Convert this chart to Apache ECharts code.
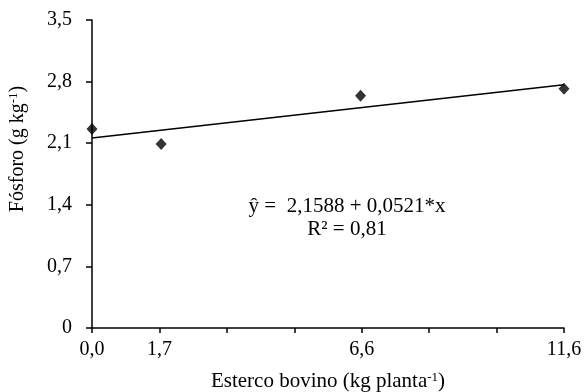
<!DOCTYPE html>
<html>
<head>
<meta charset="utf-8">
<script src="https://cdn.jsdelivr.net/npm/echarts@6/dist/echarts.min.js"></script>
<style>
  html, body { margin: 0; padding: 0; background: #fff; }
  #chart { width: 585px; height: 392px; }
</style>
</head>
<body>
<div id="chart"></div>
<script>
// dados
const esterco = [0, 1.7, 6.6, 11.6];
const fosforo = [2.26, 2.09, 2.64, 2.72];
// reta ajustada: ŷ = 2,1588 + 0,0521*x
const retaX = [0, 11.6];
const retaY = [2.159, 2.763];
// rótulos do eixo x (7 divisões de 0 a 11,6)
const xTicks = [0, 1.657, 3.314, 4.971, 6.629, 8.286, 9.943, 11.6];
const xTickLabels = ['0,0', '1,7', '', '', '6,6', '', '', '11,6'];
const yTicks = [0, 0.7, 1.4, 2.1, 2.8, 3.5];
const yTickLabels = ['0', '0,7', '1,4', '2,1', '2,8', '3,5'];

const FONT = '"Liberation Serif", "Times New Roman", serif';
const chart = echarts.init(document.getElementById('chart'));

chart.setOption({
  animation: false,
  backgroundColor: '#fff',
  textStyle: { fontFamily: FONT, color: '#000' },
  grid: { left: 92, right: 21, top: 20, bottom: 64, outerBoundsMode: 'none', containLabel: false },
  xAxis: {
    type: 'value',
    min: 0,
    max: 11.6,
    splitLine: { show: false },
    axisLine: { show: true, lineStyle: { color: '#000', width: 1.5 } },
    axisTick: { show: true, length: 5, customValues: xTicks, lineStyle: { color: '#000', width: 1.5 } },
    axisLabel: {
      customValues: xTicks,
      margin: 12,
      fontFamily: FONT, fontSize: 20, color: '#000',
      formatter: (v) => {
        const i = xTicks.findIndex(t => Math.abs(t - v) < 0.01);
        return i >= 0 ? xTickLabels[i] : '';
      }
    },
    name: '{a|Esterco bovino (kg planta}{s|-1}{a|)}',
    nameLocation: 'middle',
    nameGap: 43,
    nameTextStyle: {
      rich: {
        a: { fontFamily: FONT, fontSize: 21, color: '#000' },
        s: { fontFamily: FONT, fontSize: 13, color: '#000', padding: [0, 0, 8, 0] }
      }
    }
  },
  yAxis: {
    type: 'value',
    min: 0,
    max: 3.5,
    interval: 0.7,
    splitLine: { show: false },
    axisLine: { show: true, lineStyle: { color: '#000', width: 1.5 } },
    axisTick: { show: true, length: 6, lineStyle: { color: '#000', width: 1.5 } },
    axisLabel: {
      margin: 20,
      fontFamily: FONT, fontSize: 20, color: '#000',
      formatter: (v) => {
        const i = yTicks.findIndex(t => Math.abs(t - v) < 0.01);
        return i >= 0 ? yTickLabels[i] : '';
      }
    }
  },
  graphic: [
    {
      type: 'text',
      x: 18, y: 149,
      rotation: Math.PI / 2,
      style: {
        text: '{a|Fósforo (g kg}{s|-1}{a|)}',
        align: 'center', verticalAlign: 'middle',
        rich: {
          a: { fontFamily: FONT, fontSize: 20, fill: '#000' },
          s: { fontFamily: FONT, fontSize: 13, fill: '#000', padding: [0, 0, 8, 0] }
        }
      }
    },
    {
      type: 'text',
      x: 347, y: 218,
      style: {
        text: 'ŷ =  2,1588 + 0,0521*x\nR² = 0,81',
        align: 'center', verticalAlign: 'middle',
        fontFamily: FONT, fontSize: 21, lineHeight: 23, fill: '#000'
      }
    }
  ],
  series: [
    {
      type: 'line',
      data: retaX.map((x, i) => [x, retaY[i]]),
      showSymbol: false,
      lineStyle: { color: '#000', width: 1.5 },
      z: 2
    },
    {
      type: 'scatter',
      data: esterco.map((x, i) => [x, fosforo[i]]),
      symbol: 'diamond',
      symbolSize: [11, 12],
      itemStyle: { color: '#000' },
      z: 3
    }
  ]
});
</script>
</body>
</html>
